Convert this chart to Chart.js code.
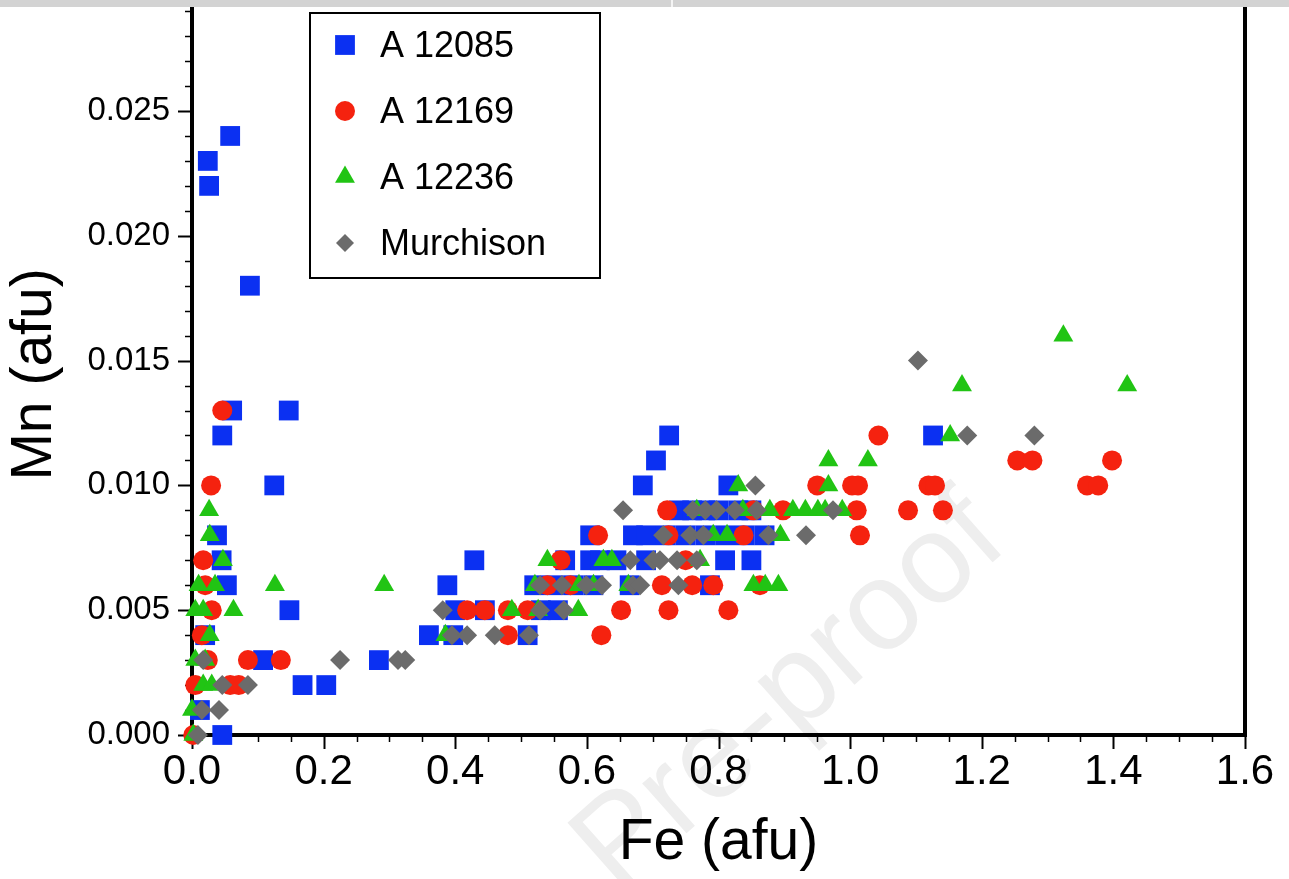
<!DOCTYPE html>
<html>
<head>
<meta charset="utf-8">
<script src="https://cdn.jsdelivr.net/npm/chart.js@4.4.1/dist/chart.umd.min.js"></script>
<style>
html,body{margin:0;padding:0;background:#fff;}
#wrap{position:relative;width:1289px;height:879px;overflow:hidden;}
#graph1{position:absolute;left:0;top:0;}
.wm{position:absolute;left:785px;top:688px;transform:translate(-50%,-50%) rotate(-41.5deg);font:126px 'Liberation Sans',Arial,sans-serif;color:#eeeeee;white-space:nowrap;}
.topbar{position:absolute;left:0;top:0;width:1289px;height:7px;background:#d3d3d3;}
.topbar i{position:absolute;left:671px;top:0;width:2px;height:7px;background:#f4f4f4;}
</style>
</head>
<body>
<div id="wrap">
  <div class="wm">Pre-proof</div>
  <canvas id="graph1" width="1289" height="879"></canvas>
  <div class="topbar"><i></i></div>
</div>
<script>
// données : Fe (afu) en x, Mn (afu) en y

// A 12085
var fe12085 = [0.058,0.024,0.026,0.088,0.061,0.147,0.046,0.125,0.038,0.045,0.053,0.148,0.020,0.108,0.012,0.046,
  0.168,0.204,0.284,0.360,0.388,0.429,0.400,0.445,0.530,0.556,0.397,0.510,0.520,0.550,0.580,0.610,0.567,0.605,0.605,
  0.725,0.705,0.685,0.815,0.740,0.760,0.780,0.800,0.830,0.850,0.670,0.690,0.720,0.750,0.780,0.810,0.840,0.870,
  0.620,0.645,0.690,0.810,0.850,0.665,0.787,1.126];
var mn12085 = [0.024,0.023,0.022,0.018,0.013,0.013,0.012,0.010,0.008,0.007,0.006,0.005,0.004,0.003,0.001,0.000,
  0.002,0.002,0.003,0.004,0.006,0.007,0.005,0.005,0.005,0.005,0.004,0.004,0.006,0.006,0.006,0.006,0.007,0.007,0.008,
  0.012,0.011,0.010,0.010,0.009,0.009,0.009,0.009,0.009,0.009,0.008,0.008,0.008,0.008,0.008,0.008,0.008,0.008,
  0.007,0.007,0.007,0.007,0.007,0.006,0.006,0.012];

// A 12169
var fe12169 = [0.046,0.029,0.017,0.020,0.030,0.015,0.024,0.085,0.135,0.005,0.058,0.071,0.002,
  0.418,0.445,0.480,0.510,0.652,0.480,0.622,0.540,0.575,0.560,0.617,
  0.724,0.838,0.722,0.714,0.760,0.792,0.724,0.815,0.750,
  1.043,0.950,1.003,1.012,0.853,0.898,1.010,1.015,0.863,
  1.254,1.277,1.398,1.119,1.129,1.360,1.377,1.088,1.141];
var mn12169 = [0.013,0.010,0.007,0.006,0.005,0.004,0.003,0.003,0.003,0.002,0.002,0.002,0.000,
  0.005,0.005,0.005,0.005,0.005,0.004,0.004,0.006,0.006,0.007,0.008,
  0.008,0.008,0.009,0.006,0.006,0.006,0.005,0.005,0.007,
  0.012,0.010,0.010,0.010,0.009,0.009,0.009,0.008,0.006,
  0.011,0.011,0.011,0.010,0.010,0.010,0.010,0.009,0.009];

// A 12236
var fe12236 = [0.026,0.027,0.047,0.010,0.035,0.126,0.005,0.017,0.063,0.027,0.005,0.020,0.017,0.030,0.000,0.002,0.292,
  0.486,0.526,0.587,0.385,0.521,0.588,0.610,0.540,0.625,0.638,
  0.830,0.767,0.837,0.792,0.813,0.772,0.663,
  0.967,1.027,0.967,0.878,0.913,0.932,0.951,0.962,0.988,0.894,0.853,0.871,0.891,
  1.324,1.170,1.421,1.152];
var mn12236 = [0.009,0.008,0.007,0.006,0.006,0.006,0.005,0.005,0.005,0.004,0.003,0.003,0.002,0.002,0.001,0.000,0.006,
  0.005,0.005,0.005,0.004,0.006,0.006,0.006,0.007,0.007,0.007,
  0.010,0.009,0.009,0.008,0.008,0.007,0.006,
  0.011,0.011,0.010,0.009,0.009,0.009,0.009,0.009,0.009,0.008,0.006,0.006,0.006,
  0.016,0.014,0.014,0.012];

// Murchison
var feMurch = [0.017,0.046,0.085,0.015,0.041,0.009,0.225,0.313,0.324,
  0.381,0.529,0.565,0.395,0.418,0.460,0.512,0.529,0.562,0.599,0.623,0.655,
  0.761,0.780,0.797,0.825,0.858,0.716,0.757,0.777,0.666,0.701,0.711,0.737,0.767,0.670,0.681,0.739,
  0.856,0.876,0.933,0.974,1.103,1.178,1.280];
var mnMurch = [0.003,0.002,0.002,0.001,0.001,0.000,0.003,0.003,0.003,
  0.005,0.005,0.005,0.004,0.004,0.004,0.004,0.006,0.006,0.006,0.006,0.009,
  0.009,0.009,0.009,0.009,0.009,0.008,0.008,0.008,0.007,0.007,0.007,0.007,0.007,0.006,0.006,0.006,
  0.010,0.008,0.008,0.009,0.015,0.012,0.012];

var series = ["A 12085", "A 12169", "A 12236", "Murchison"];
var xTicks = [0.0, 0.2, 0.4, 0.6, 0.8, 1.0, 1.2, 1.4, 1.6];
var yTicks = [0.000, 0.005, 0.010, 0.015, 0.020, 0.025];

function pts(xs, ys){
  var out = [];
  for(let i = 0; i < xs.length; i++){
    out.push({x: xs[i], y: ys[i]});
  }
  return out;
}

var fontFam = "'Liberation Sans', Arial, Helvetica, sans-serif";

function near(v, list){
  return list.some(t => Math.abs(t - v) < 1e-7);
}

// axes, traits de graduation et cadre
var axesPlugin = {
  id: 'axesFrame',
  beforeDatasetsDraw(chart){
    const ctx = chart.ctx, a = chart.chartArea;
    const xs = chart.scales.x, ys = chart.scales.y;
    ctx.save();
    ctx.strokeStyle = '#000';
    ys.ticks.forEach(t => {
      const py = Math.round(ys.getPixelForValue(t.value)) + 0.5;
      const major = near(t.value, yTicks);
      const len = major ? 14 : 7;
      ctx.lineWidth = major ? 2 : 1.5;
      ctx.beginPath(); ctx.moveTo(a.left - len, py); ctx.lineTo(a.left, py); ctx.stroke();
    });
    xs.ticks.forEach(t => {
      const px = Math.round(xs.getPixelForValue(t.value)) + 0.5;
      const major = near(t.value, xTicks);
      const len = major ? 14 : 7;
      ctx.lineWidth = major ? 2 : 1.5;
      ctx.beginPath(); ctx.moveTo(px, a.bottom); ctx.lineTo(px, a.bottom + len); ctx.stroke();
    });
    ctx.lineWidth = 4;
    ctx.beginPath();
    ctx.moveTo(a.left, 0);
    ctx.lineTo(a.left, a.bottom);
    ctx.lineTo(a.right, a.bottom);
    ctx.lineTo(a.right, 0);
    ctx.stroke();
    ctx.restore();
  }
};

// légende encadrée dans la zone du graphique
var legendPlugin = {
  id: 'boxLegend',
  afterDraw(chart){
    const ctx = chart.ctx;
    const bx = 310, by = 13, bw = 290, bh = 265;
    ctx.save();
    ctx.fillStyle = '#fff';
    ctx.fillRect(bx, by, bw, bh);
    ctx.strokeStyle = '#000';
    ctx.lineWidth = 2;
    ctx.strokeRect(bx, by, bw, bh);
    ctx.font = "36px " + fontFam;
    ctx.textBaseline = 'middle';
    chart.data.datasets.forEach((ds, i) => {
      const cy = 45 + i * 66;
      ctx.fillStyle = ds.backgroundColor;
      Chart.helpers.drawPoint(ctx, {pointStyle: ds.pointStyle, radius: ds.legendRadius, rotation: 0, borderWidth: 0}, 345, cy);
      ctx.fillStyle = '#000';
      ctx.fillText(ds.label, 380, cy + 2);
    });
    ctx.restore();
  }
};

var ctx = document.getElementById("graph1").getContext("2d");
const myChart = new Chart(ctx, {
  type: 'scatter',
  data: {
    datasets: [
      {label: series[0], data: pts(fe12085, mn12085), pointStyle: 'rect', pointRadius: 14, pointHoverRadius: 14, legendRadius: 14,
       backgroundColor: '#0b30f2', borderWidth: 0, order: 4, clip: false},
      {label: series[1], data: pts(fe12169, mn12169), pointStyle: 'circle', pointRadius: 10, pointHoverRadius: 10, legendRadius: 10,
       backgroundColor: '#f5220f', borderWidth: 0, order: 3, clip: false},
      {label: series[2], data: pts(fe12236, mn12236), pointStyle: 'triangle', pointRadius: 11.5, pointHoverRadius: 11.5, legendRadius: 11.5,
       backgroundColor: '#21c414', borderWidth: 0, order: 2, clip: false},
      {label: series[3], data: pts(feMurch, mnMurch), pointStyle: 'rectRot', pointRadius: 10, pointHoverRadius: 10, legendRadius: 9,
       backgroundColor: '#6b6b6b', borderWidth: 0, order: 1, clip: false}
    ]
  },
  options: {
    responsive: false,
    animation: false,
    events: [],
    layout: {padding: {top: 0, right: 44, left: 0, bottom: 0}},
    plugins: {
      legend: {display: false},
      tooltip: {enabled: false}
    },
    scales: {
      x: {
        type: 'linear',
        min: 0, max: 1.6,
        grid: {display: false, drawTicks: false},
        border: {display: false},
        afterBuildTicks: function(scale){
          var t = [];
          for(let i = 0; i <= 32; i++) t.push({value: i * 0.05});
          scale.ticks = t;
        },
        afterFit: function(scale){ scale.height = 144; scale.paddingLeft = 0; scale.paddingRight = 0; },
        ticks: {
          autoSkip: false, maxRotation: 0, padding: 12, color: '#000',
          font: {family: fontFam, size: 42},
          callback: function(v){ return near(v, xTicks) ? v.toFixed(1) : ''; }
        },
        title: {display: true, text: 'Fe (afu)', color: '#000', font: {family: fontFam, size: 57}, padding: {top: 0, bottom: 2}}
      },
      y: {
        type: 'linear',
        min: 0, max: 0.028886,
        grid: {display: false, drawTicks: false},
        border: {display: false},
        afterBuildTicks: function(scale){
          var t = [];
          for(let i = 0; i <= 29; i++) t.push({value: i * 0.001});
          scale.ticks = t;
        },
        afterFit: function(scale){ scale.width = 192; scale.paddingTop = 0; scale.paddingBottom = 0; },
        ticks: {
          autoSkip: false, padding: 22, color: '#000',
          font: {family: fontFam, size: 33},
          callback: function(v){ return near(v, yTicks) ? v.toFixed(3) : ''; }
        },
        title: {display: true, text: 'Mn (afu)', color: '#000', font: {family: fontFam, size: 57}, padding: {top: 1, bottom: 0}}
      }
    }
  },
  plugins: [axesPlugin, legendPlugin]
});
</script>
</body>
</html>
